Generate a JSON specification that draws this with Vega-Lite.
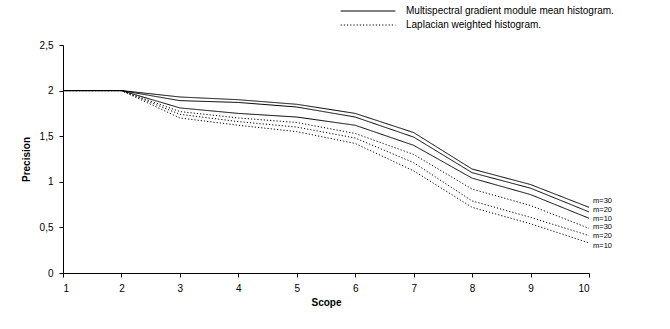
{
  "$schema": "https://vega.github.io/schema/vega-lite/v6.json",
  "autosize": "none",
  "width": 526,
  "height": 228,
  "padding": {"left": 63, "top": 45, "right": 81, "bottom": 56},
  "background": "white",
  "config": {
    "view": {"stroke": null},
    "font": "Liberation Sans",
    "axis": {"domainColor": "black", "tickColor": "black", "labelColor": "black", "titleColor": "black", "grid": false, "labelFont": "Liberation Sans", "titleFont": "Liberation Sans", "labelFontSize": 10, "titleFontSize": 10, "titleFontWeight": "bold", "tickSize": 4, "domainWidth": 1, "tickWidth": 1}
  },
  "datasets": {
    "series": [
      {"scope": 1, "precision": 2.0, "method": "Multispectral gradient module mean histogram.", "m": "m=30"},
      {"scope": 2, "precision": 2.0, "method": "Multispectral gradient module mean histogram.", "m": "m=30"},
      {"scope": 3, "precision": 1.93, "method": "Multispectral gradient module mean histogram.", "m": "m=30"},
      {"scope": 4, "precision": 1.9, "method": "Multispectral gradient module mean histogram.", "m": "m=30"},
      {"scope": 5, "precision": 1.85, "method": "Multispectral gradient module mean histogram.", "m": "m=30"},
      {"scope": 6, "precision": 1.75, "method": "Multispectral gradient module mean histogram.", "m": "m=30"},
      {"scope": 7, "precision": 1.54, "method": "Multispectral gradient module mean histogram.", "m": "m=30"},
      {"scope": 8, "precision": 1.14, "method": "Multispectral gradient module mean histogram.", "m": "m=30"},
      {"scope": 9, "precision": 0.97, "method": "Multispectral gradient module mean histogram.", "m": "m=30"},
      {"scope": 10, "precision": 0.72, "method": "Multispectral gradient module mean histogram.", "m": "m=30"},
      {"scope": 1, "precision": 2.0, "method": "Multispectral gradient module mean histogram.", "m": "m=20"},
      {"scope": 2, "precision": 2.0, "method": "Multispectral gradient module mean histogram.", "m": "m=20"},
      {"scope": 3, "precision": 1.89, "method": "Multispectral gradient module mean histogram.", "m": "m=20"},
      {"scope": 4, "precision": 1.87, "method": "Multispectral gradient module mean histogram.", "m": "m=20"},
      {"scope": 5, "precision": 1.82, "method": "Multispectral gradient module mean histogram.", "m": "m=20"},
      {"scope": 6, "precision": 1.71, "method": "Multispectral gradient module mean histogram.", "m": "m=20"},
      {"scope": 7, "precision": 1.49, "method": "Multispectral gradient module mean histogram.", "m": "m=20"},
      {"scope": 8, "precision": 1.1, "method": "Multispectral gradient module mean histogram.", "m": "m=20"},
      {"scope": 9, "precision": 0.93, "method": "Multispectral gradient module mean histogram.", "m": "m=20"},
      {"scope": 10, "precision": 0.67, "method": "Multispectral gradient module mean histogram.", "m": "m=20"},
      {"scope": 1, "precision": 2.0, "method": "Multispectral gradient module mean histogram.", "m": "m=10"},
      {"scope": 2, "precision": 2.0, "method": "Multispectral gradient module mean histogram.", "m": "m=10"},
      {"scope": 3, "precision": 1.81, "method": "Multispectral gradient module mean histogram.", "m": "m=10"},
      {"scope": 4, "precision": 1.75, "method": "Multispectral gradient module mean histogram.", "m": "m=10"},
      {"scope": 5, "precision": 1.71, "method": "Multispectral gradient module mean histogram.", "m": "m=10"},
      {"scope": 6, "precision": 1.62, "method": "Multispectral gradient module mean histogram.", "m": "m=10"},
      {"scope": 7, "precision": 1.4, "method": "Multispectral gradient module mean histogram.", "m": "m=10"},
      {"scope": 8, "precision": 1.04, "method": "Multispectral gradient module mean histogram.", "m": "m=10"},
      {"scope": 9, "precision": 0.86, "method": "Multispectral gradient module mean histogram.", "m": "m=10"},
      {"scope": 10, "precision": 0.6, "method": "Multispectral gradient module mean histogram.", "m": "m=10"},
      {"scope": 1, "precision": 2.0, "method": "Laplacian weighted histogram.", "m": "m=30"},
      {"scope": 2, "precision": 2.0, "method": "Laplacian weighted histogram.", "m": "m=30"},
      {"scope": 3, "precision": 1.77, "method": "Laplacian weighted histogram.", "m": "m=30"},
      {"scope": 4, "precision": 1.7, "method": "Laplacian weighted histogram.", "m": "m=30"},
      {"scope": 5, "precision": 1.65, "method": "Laplacian weighted histogram.", "m": "m=30"},
      {"scope": 6, "precision": 1.53, "method": "Laplacian weighted histogram.", "m": "m=30"},
      {"scope": 7, "precision": 1.3, "method": "Laplacian weighted histogram.", "m": "m=30"},
      {"scope": 8, "precision": 0.92, "method": "Laplacian weighted histogram.", "m": "m=30"},
      {"scope": 9, "precision": 0.74, "method": "Laplacian weighted histogram.", "m": "m=30"},
      {"scope": 10, "precision": 0.49, "method": "Laplacian weighted histogram.", "m": "m=30"},
      {"scope": 1, "precision": 2.0, "method": "Laplacian weighted histogram.", "m": "m=20"},
      {"scope": 2, "precision": 2.0, "method": "Laplacian weighted histogram.", "m": "m=20"},
      {"scope": 3, "precision": 1.74, "method": "Laplacian weighted histogram.", "m": "m=20"},
      {"scope": 4, "precision": 1.66, "method": "Laplacian weighted histogram.", "m": "m=20"},
      {"scope": 5, "precision": 1.6, "method": "Laplacian weighted histogram.", "m": "m=20"},
      {"scope": 6, "precision": 1.48, "method": "Laplacian weighted histogram.", "m": "m=20"},
      {"scope": 7, "precision": 1.21, "method": "Laplacian weighted histogram.", "m": "m=20"},
      {"scope": 8, "precision": 0.79, "method": "Laplacian weighted histogram.", "m": "m=20"},
      {"scope": 9, "precision": 0.61, "method": "Laplacian weighted histogram.", "m": "m=20"},
      {"scope": 10, "precision": 0.41, "method": "Laplacian weighted histogram.", "m": "m=20"},
      {"scope": 1, "precision": 2.0, "method": "Laplacian weighted histogram.", "m": "m=10"},
      {"scope": 2, "precision": 2.0, "method": "Laplacian weighted histogram.", "m": "m=10"},
      {"scope": 3, "precision": 1.7, "method": "Laplacian weighted histogram.", "m": "m=10"},
      {"scope": 4, "precision": 1.62, "method": "Laplacian weighted histogram.", "m": "m=10"},
      {"scope": 5, "precision": 1.55, "method": "Laplacian weighted histogram.", "m": "m=10"},
      {"scope": 6, "precision": 1.42, "method": "Laplacian weighted histogram.", "m": "m=10"},
      {"scope": 7, "precision": 1.12, "method": "Laplacian weighted histogram.", "m": "m=10"},
      {"scope": 8, "precision": 0.72, "method": "Laplacian weighted histogram.", "m": "m=10"},
      {"scope": 9, "precision": 0.54, "method": "Laplacian weighted histogram.", "m": "m=10"},
      {"scope": 10, "precision": 0.33, "method": "Laplacian weighted histogram.", "m": "m=10"}
    ],
    "labels": [
      {"scope": 10, "labelY": 0.785, "label": "m=30"},
      {"scope": 10, "labelY": 0.69, "label": "m=20"},
      {"scope": 10, "labelY": 0.595, "label": "m=10"},
      {"scope": 10, "labelY": 0.5, "label": "m=30"},
      {"scope": 10, "labelY": 0.405, "label": "m=20"},
      {"scope": 10, "labelY": 0.3, "label": "m=10"}
    ]
  },
  "layer": [
    {
      "data": {"name": "series"},
      "mark": {"type": "line", "color": "black", "strokeWidth": 1},
      "encoding": {
        "x": {"field": "scope", "type": "quantitative", "scale": {"domain": [1, 10], "nice": false, "zero": false}, "axis": {"values": [1, 2, 3, 4, 5, 6, 7, 8, 9, 10], "format": "d", "title": "Scope", "labelPadding": 6, "titlePadding": 4}},
        "y": {"field": "precision", "type": "quantitative", "scale": {"domain": [0, 2.5], "nice": false}, "axis": {"values": [0, 0.5, 1, 1.5, 2, 2.5], "title": "Precision", "labelExpr": "replace(format(datum.value, '~g'), '.', ',')", "labelPadding": 6, "titlePadding": 8}},
        "detail": {"field": "m"},
        "strokeDash": {
          "field": "method", "type": "nominal",
          "scale": {"domain": ["Multispectral gradient module mean histogram.", "Laplacian weighted histogram."], "range": [[1, 0], [1.2, 2]]},
          "legend": {
            "orient": "none", "legendX": 277, "legendY": -40, "title": null,
            "symbolType": "stroke", "symbolSize": 3000, "symbolStrokeWidth": 1.2, "symbolStrokeColor": "black",
            "clipHeight": 12, "labelLimit": 400,
            "labelFontSize": 10, "labelColor": "black", "labelFont": "Liberation Sans", "labelOffset": 10, "rowPadding": 2,
            "encode": {"symbols": {"update": {"strokeDash": {"signal": "datum.value === 'Laplacian weighted histogram.' ? [4, 2] : [1, 0]"}}}}
          }
        }
      }
    },
    {
      "data": {"name": "labels"},
      "mark": {"type": "text", "align": "left", "baseline": "middle", "dx": 4, "fontSize": 7.5, "color": "black", "font": "Liberation Sans"},
      "encoding": {
        "x": {"field": "scope", "type": "quantitative"},
        "y": {"field": "labelY", "type": "quantitative"},
        "text": {"field": "label"}
      }
    }
  ]
}
